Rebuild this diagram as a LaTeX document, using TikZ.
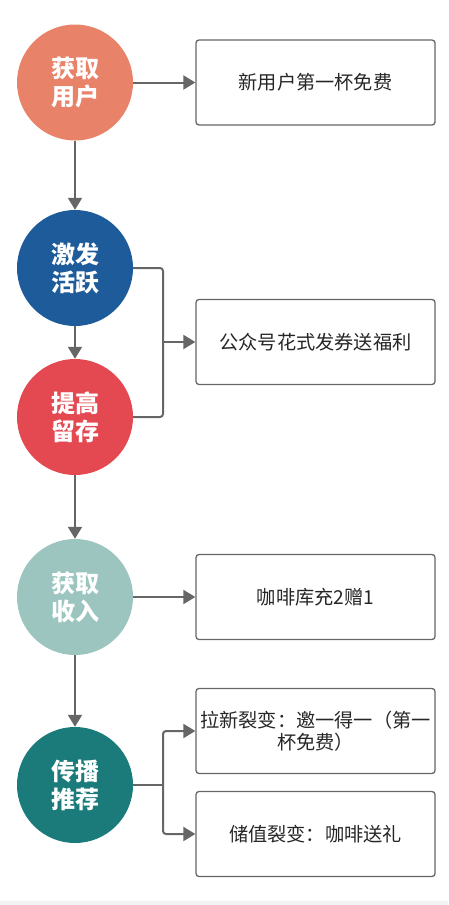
\documentclass[tikz,border=0pt]{standalone}
\usepackage{fontspec}
\setmainfont{Noto Sans CJK SC}
\usetikzlibrary{arrows.meta}
\definecolor{qsalmon}{RGB}{232,131,106}
\definecolor{qblue}{RGB}{30,91,154}
\definecolor{qred}{RGB}{228,72,80}
\definecolor{qsage}{RGB}{157,197,192}
\definecolor{qteal}{RGB}{27,123,123}
\definecolor{qgrey}{RGB}{102,102,102}
\definecolor{qband}{RGB}{242,242,242}

\begin{document}
\begin{tikzpicture}[x=1pt,y=-1pt,
  stage/.style={circle, minimum size=116pt, inner sep=0pt, text=white,
    align=center, font=\fontsize{24}{28}\selectfont\bfseries},
  note/.style={draw=qgrey, line width=1.3pt, rounded corners=3pt,
    minimum width=239pt, minimum height=85pt, inner sep=1pt, align=center,
    text=black!85, font=\fontsize{19.2}{22}\selectfont},
  link/.style={draw=qgrey, line width=2pt, -{Triangle[length=12pt,width=14pt]}}]

\useasboundingbox (0,0) rectangle (448,905);
\fill[qband] (0,901) rectangle (448,905);

% stages
\node[stage, fill=qsalmon] (get) at (75,82.5) {获取\\用户};
\node[stage, fill=qblue] (act) at (75,268) {激发\\活跃};
\node[stage, fill=qred] (keep) at (75,417) {提高\\留存};
\node[stage, fill=qsage] (earn) at (75,597) {获取\\收入};
\node[stage, fill=qteal] (share) at (75,785) {传播\\推荐};

% notes
\node[note] (bnew) at (315.5,82.5) {新用户第一杯免费};
\node[note] (bcoupon) at (315.5,342) {公众号花式发券送福利};
\node[note] (bcharge) at (315.5,597) {咖啡库充2赠1};
\node[note] (binvite) at (315.5,731) {拉新裂变：邀一得一（第一\\杯免费）};
\node[note] (bgift) at (315.5,834) {储值裂变：咖啡送礼};

\coordinate (j1) at (163,342);
\coordinate (j2) at (163,785);

\draw[link] (get) -- (act);
\draw[link] (act) -- (keep);
\draw[link] (keep) -- (earn);
\draw[link] (earn) -- (share);

\draw[link] (get) -- (bnew);
\draw[link] (earn) -- (bcharge);

\draw[qgrey, line width=2pt, rounded corners=3pt] (act.east) -| (j1) |- (keep.east);
\draw[link] (j1) -- (j1 -| bcoupon.west);

\draw[qgrey, line width=2pt] (share.east) -- (j2);
\draw[link, rounded corners=3pt] (j2) |- (binvite.west);
\draw[link, rounded corners=3pt] (j2) |- (bgift.west);
\end{tikzpicture}
\end{document}
